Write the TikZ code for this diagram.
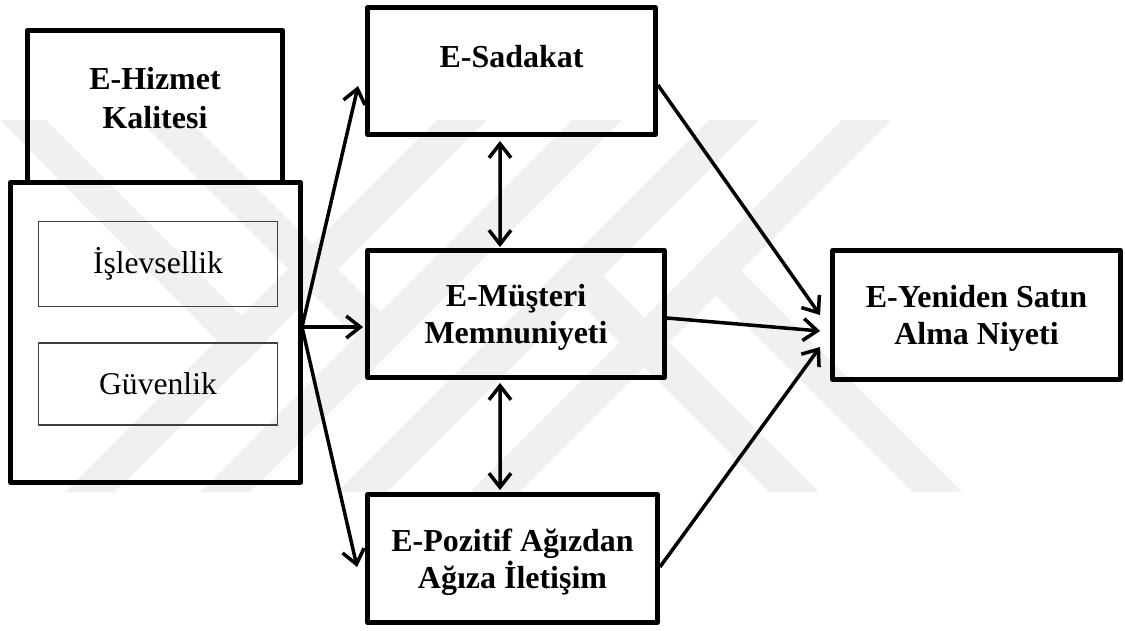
\documentclass[tikz,border=0pt]{standalone}
\usepackage{fontspec}
\setmainfont{Liberation Serif}
\usetikzlibrary{arrows.meta}
\begin{document}
\begin{tikzpicture}[x=0.02cm,y=-0.02cm,
  wm/.style={fill=black!6, draw=none},
  bigbox/.style={draw, line width=2.8pt, line join=round, inner sep=0pt, align=center, text depth=0pt,
    font=\fontsize{18.2pt}{21pt}\selectfont\bfseries},
  subbox/.style={draw=black!75, line width=0.7pt, inner sep=0pt,
    font=\fontsize{18pt}{21pt}\selectfont},
  lbl/.style={inner sep=0pt, align=center, text depth=0pt, font=\fontsize{18.2pt}{22pt}\selectfont\bfseries},
  arr/.style={line width=2pt, -{Straight Barb[length=0.28cm,width=0.44cm]}},
  dbl/.style={line width=2pt, {Straight Barb[length=0.28cm,width=0.44cm]}-{Straight Barb[length=0.28cm,width=0.44cm]}}
]
\useasboundingbox (0,0) rectangle (1125,630);
% watermark
\foreach \b in {65,200,337,470}{
  \fill[wm] (\b,492) -- (\b+50,492) -- (\b+422,120) -- (\b+372,120) -- cycle;
}
\fill[wm] (769,492) -- (819,492) -- (578,251) -- (553,276) -- cycle;
\fill[wm] (912,492) -- (962,492) -- (716,246) -- (691,271) -- cycle;
\fill[wm] (189,120) -- (139,120) -- (380,361) -- (405,336) -- cycle;
\fill[wm] (46,120) -- (0,120) -- (242,366) -- (267,341) -- cycle;

% boxes
\node[bigbox, minimum width=5.80cm, minimum height=6.00cm] (kap) at (155.5,332.5) {};
\node[bigbox, minimum width=5.10cm, minimum height=3.04cm] (hiz) at (155,106.5) {};
\node[lbl] (hizT) at (155,98) {E-Hizmet\\Kalitesi};
\node[subbox, minimum width=4.78cm, minimum height=1.70cm] (isl) at (158,264) {İşlevsellik};
\node[subbox, minimum width=4.78cm, minimum height=1.64cm] (guv) at (158,384) {Güvenlik};

\node[bigbox, minimum width=5.76cm, minimum height=2.54cm] (sad) at (511.5,71) {};
\node[lbl] (sadT) at (511.5,56) {E-Sadakat};
\node[bigbox, minimum width=5.94cm, minimum height=2.54cm] (mus) at (516,314) {E-Müşteri\\Memnuniyeti};
\node[bigbox, minimum width=5.80cm, minimum height=2.56cm] (poz) at (512.5,558.5) {E-Pozitif Ağızdan\\Ağıza İletişim};
\node[bigbox, minimum width=5.76cm, minimum height=2.58cm] (yen) at (976.5,315) {E-Yeniden Satın\\Alma Niyeti};

% connectors
\coordinate (src) at (302,327);
\draw[arr] (src) -- ([xshift=-0.14cm,yshift=-0.3cm]sad.west);
\draw[arr, shorten >=0.04cm] (src) -- (src -| mus.west);
\draw[arr] (src) -- ([xshift=-0.16cm,yshift=-0.17cm]poz.west);

\draw[dbl, shorten <=0.08cm, shorten >=0.02cm] ([xshift=-0.23cm]sad.south) -- ([xshift=-0.32cm]mus.north);
\draw[dbl, shorten <=0.06cm, shorten >=0.04cm] ([xshift=-0.32cm]mus.south) -- ([xshift=-0.25cm]poz.north);

\draw[arr] ([yshift=-0.28cm]sad.east) -- ([xshift=-0.2cm]yen.west);
\draw[arr] ([yshift=-0.08cm]mus.east) -- ([xshift=-0.2cm,yshift=-0.32cm]yen.west);
\draw[arr] ([yshift=-0.17cm]poz.east) -- ([xshift=-0.2cm,yshift=-0.64cm]yen.west);
\end{tikzpicture}
\end{document}
